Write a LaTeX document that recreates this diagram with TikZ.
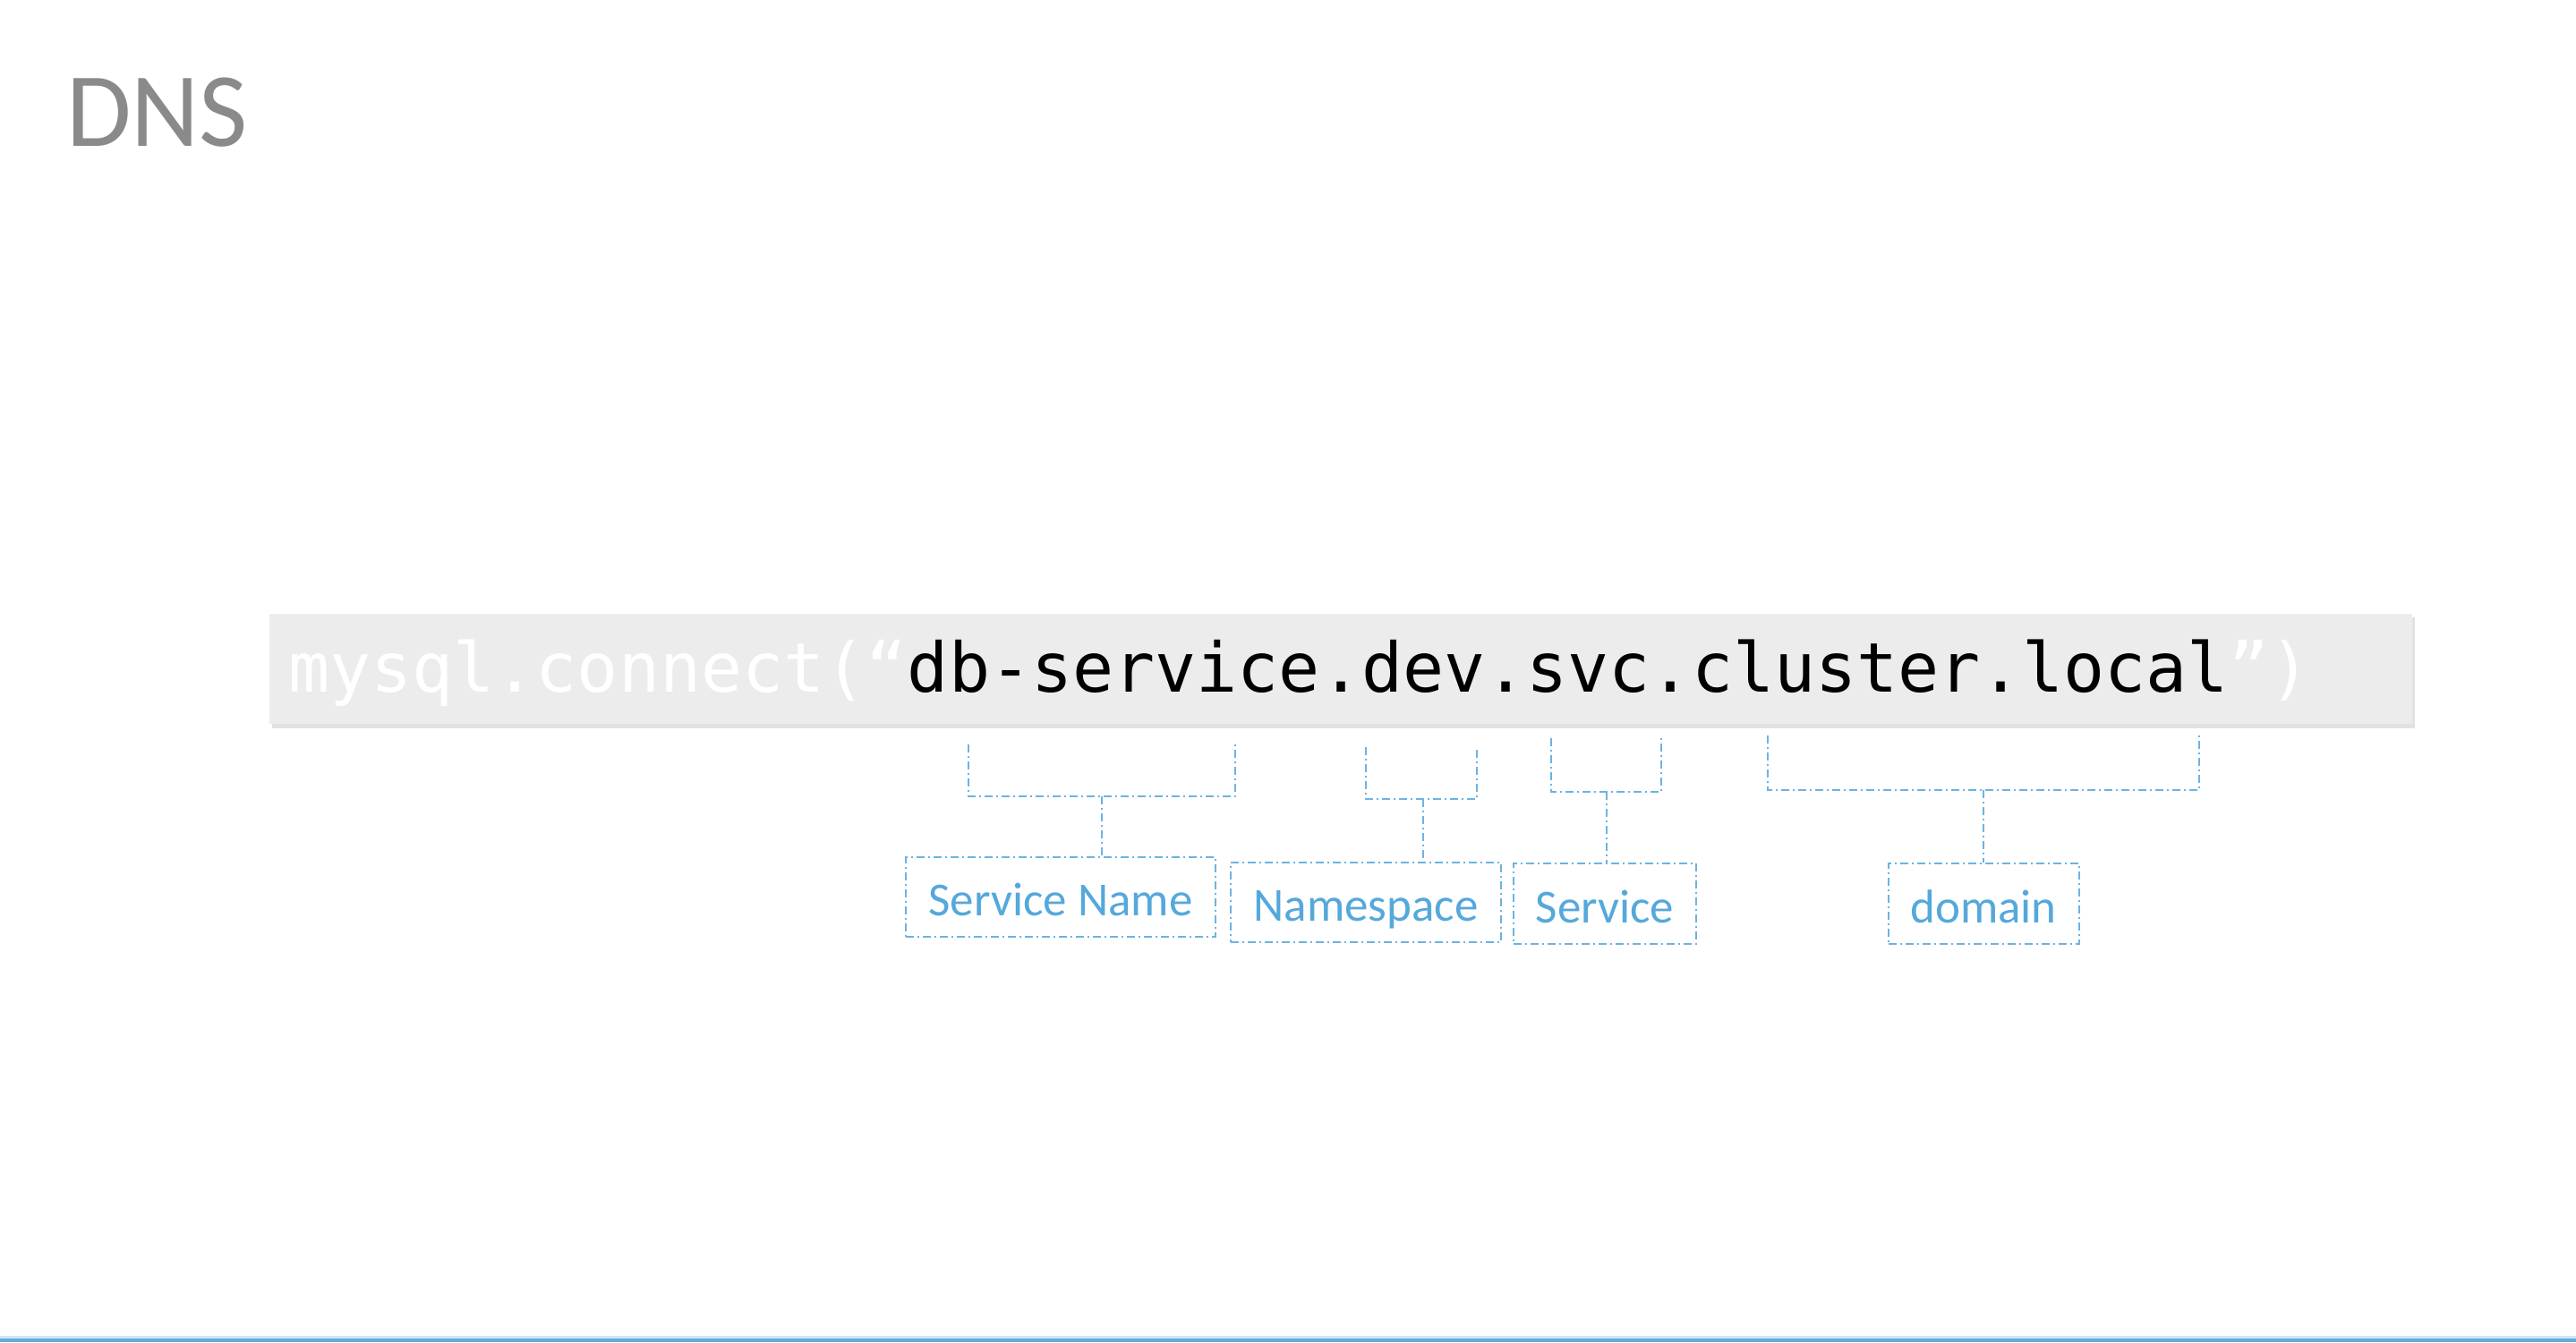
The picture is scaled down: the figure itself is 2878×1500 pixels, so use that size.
\documentclass[tikz,border=0pt]{standalone}
\usepackage{fontspec}
\setmainfont{Carlito}
\newfontfamily\codefont{DejaVu Sans Mono}
\definecolor{titlegray}{HTML}{8A8A8A}
\definecolor{barbg}{HTML}{ECECEC}
\definecolor{barshadow}{HTML}{E2E2E2}
\definecolor{lblblue}{HTML}{55A8DB}
\definecolor{brkblue}{HTML}{6DB3E0}
\definecolor{bandblue}{HTML}{66ACD6}
\definecolor{bandlight}{HTML}{CDE8F6}
\tikzset{
  brk/.style={draw=brkblue, line width=2pt, dash pattern=on 9pt off 4pt on 2pt off 4pt},
  lbl/.style={draw=brkblue, line width=2pt, dash pattern=on 9pt off 4pt on 2pt off 4pt,
    text=lblblue, font=\fontsize{53}{60}\selectfont, inner sep=0pt,
    text height=42pt, text depth=0pt, anchor=center},
}
\begin{document}
\begin{tikzpicture}[x=1pt,y=-1pt]
\useasboundingbox (0,0) rectangle (2878,1500);
\fill[white] (0,0) rectangle (2878,1500);
% title
\node[anchor=base west, inner sep=0pt, text=titlegray, font=\fontsize{118}{124}\selectfont] (title) at (74,163) {DNS};
% code bar
\fill[barshadow] (304,690) rectangle (2698,814);
\fill[barbg] (301,686) rectangle (2695,809);
\node[anchor=base west, inner sep=0pt, font=\codefont\fontsize{76.6}{80}\selectfont] (code) at (322,773)
  {\textcolor{white}{mysql.connect(“}db-service.dev.svc.cluster.local\textcolor{white}{”)}};
% label boxes
\node[lbl, minimum width=346pt, minimum height=89pt] (sn) at (1185,1002) {Service Name};
\node[lbl, minimum width=302pt, minimum height=89pt] (ns) at (1526,1008) {Namespace};
\node[lbl, minimum width=204pt, minimum height=90pt] (svc) at (1793,1010) {Service};
\node[lbl, minimum width=213pt, minimum height=90pt] (dom) at (2216,1010) {domain};
% brackets
\coordinate (b1l) at (1082,832); \coordinate (b1r) at (1380,832); \coordinate (b1m) at (1231,890);
\coordinate (b2l) at (1526,835); \coordinate (b2r) at (1650,835); \coordinate (b2m) at (1590,893);
\coordinate (b3l) at (1733,825); \coordinate (b3r) at (1856,825); \coordinate (b3m) at (1795,885);
\coordinate (b4l) at (1975,822); \coordinate (b4r) at (2457,822); \coordinate (b4m) at (2216,883);
\draw[brk] (b1l) |- (b1m) -| (b1r);
\draw[brk] (b1m) -- (b1m |- sn.north);
\draw[brk] (b2l) |- (b2m) -| (b2r);
\draw[brk] (b2m) -- (b2m |- ns.north);
\draw[brk] (b3l) |- (b3m) -| (b3r);
\draw[brk] (b3m) -- (b3m |- svc.north);
\draw[brk] (b4l) |- (b4m) -| (b4r);
\draw[brk] (b4m) -- (b4m |- dom.north);
% bottom band
\fill[bandlight] (0,1493) rectangle (2878,1500);
\fill[bandblue] (0,1496) rectangle (2878,1500);
\end{tikzpicture}
\end{document}
